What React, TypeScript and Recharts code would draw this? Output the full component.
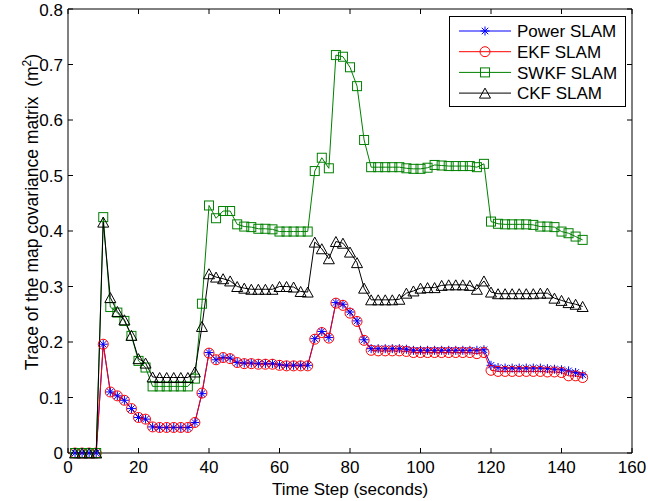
import React from 'react';
import { LineChart, Line, XAxis, YAxis, Legend, Label } from 'recharts';

// time axis (seconds)
const timeSteps = [
  2, 4, 6, 8, 10, 12, 14, 16, 18, 20, 22, 24, 26, 28, 30, 32, 34, 36, 38, 40,
  42, 44, 46, 48, 50, 52, 54, 56, 58, 60, 62, 64, 66, 68, 70, 72, 74, 76, 78, 80,
  82, 84, 86, 88, 90, 92, 94, 96, 98, 100, 102, 104, 106, 108, 110, 112, 114, 116, 118, 120,
  122, 124, 126, 128, 130, 132, 134, 136, 138, 140, 142, 144, 146,
];

const powerSlam = [
  0, 0, 0, 0, 0.196, 0.110, 0.103, 0.095, 0.080, 0.064, 0.061, 0.047, 0.046, 0.046, 0.046, 0.046, 0.046, 0.055, 0.107, 0.181,
  0.168, 0.172, 0.171, 0.163, 0.162, 0.162, 0.161, 0.161, 0.161, 0.159, 0.158, 0.158, 0.158, 0.158, 0.206, 0.219, 0.208, 0.271, 0.268, 0.254,
  0.238, 0.204, 0.188, 0.188, 0.188, 0.188, 0.188, 0.187, 0.185, 0.185, 0.185, 0.185, 0.185, 0.185, 0.185, 0.185, 0.185, 0.185, 0.186, 0.158,
  0.154, 0.153, 0.153, 0.153, 0.153, 0.153, 0.153, 0.152, 0.151, 0.150, 0.148, 0.145, 0.141,
];

const ekfSlam = [
  0, 0, 0, 0, 0.196, 0.110, 0.103, 0.095, 0.080, 0.064, 0.061, 0.047, 0.046, 0.046, 0.046, 0.046, 0.046, 0.055, 0.108, 0.180,
  0.168, 0.172, 0.170, 0.163, 0.161, 0.161, 0.160, 0.160, 0.160, 0.158, 0.157, 0.157, 0.157, 0.157, 0.205, 0.217, 0.207, 0.270, 0.266, 0.252,
  0.237, 0.203, 0.185, 0.184, 0.184, 0.184, 0.184, 0.183, 0.181, 0.181, 0.181, 0.181, 0.181, 0.181, 0.181, 0.181, 0.181, 0.179, 0.181, 0.149,
  0.147, 0.147, 0.147, 0.147, 0.147, 0.147, 0.147, 0.146, 0.146, 0.145, 0.139, 0.139, 0.136, 0.133,
];

const swkfSlam = [
  0, 0, 0, 0, 0.425, 0.263, 0.253, 0.238, 0.211, 0.166, 0.154, 0.120, 0.120, 0.120, 0.120, 0.120, 0.120, 0.134, 0.269, 0.446,
  0.423, 0.436, 0.436, 0.412, 0.408, 0.407, 0.404, 0.404, 0.403, 0.399, 0.399, 0.399, 0.399, 0.399, 0.508, 0.532, 0.513, 0.717, 0.714, 0.695,
  0.661, 0.564, 0.515, 0.515, 0.515, 0.515, 0.515, 0.513, 0.512, 0.512, 0.514, 0.519, 0.518, 0.517, 0.517, 0.517, 0.517, 0.515, 0.521, 0.417,
  0.413, 0.412, 0.412, 0.412, 0.412, 0.411, 0.408, 0.408, 0.407, 0.399, 0.396, 0.390, 0.384,
];

const ckfSlam = [
  0, 0, 0, 0, 0.416, 0.280, 0.255, 0.240, 0.212, 0.170, 0.162, 0.137, 0.136, 0.136, 0.136, 0.136, 0.136, 0.146, 0.228, 0.323,
  0.317, 0.314, 0.310, 0.300, 0.297, 0.295, 0.295, 0.295, 0.295, 0.300, 0.300, 0.299, 0.291, 0.290, 0.380, 0.368, 0.350, 0.381, 0.378, 0.362,
  0.343, 0.297, 0.276, 0.276, 0.276, 0.276, 0.277, 0.288, 0.292, 0.297, 0.298, 0.298, 0.302, 0.303, 0.303, 0.303, 0.302, 0.295, 0.310, 0.290,
  0.287, 0.287, 0.287, 0.287, 0.287, 0.287, 0.288, 0.288, 0.279, 0.275, 0.271, 0.268, 0.264,
];

const xTicks = [0, 20, 40, 60, 80, 100, 120, 140, 160];
const yTicks = [0, 0.1, 0.2, 0.3, 0.4, 0.5, 0.6, 0.7, 0.8];

const seriesNames = ['Power SLAM', 'EKF SLAM', 'SWKF SLAM', 'CKF SLAM'];

const data = timeSteps.map((t, i) => ({
  t,
  power: powerSlam[i],
  ekf: ekfSlam[i],
  swkf: swkfSlam[i],
  ckf: ckfSlam[i],
}));

const FONT = '"Liberation Sans", Arial, Helvetica, sans-serif';
const BLUE = '#0000ff';
const RED = '#ff0000';
const GREEN = '#008000';
const BLACK = '#000000';

type MarkProps = { cx: number; cy: number; color: string };

const Star = ({ cx, cy, color }: MarkProps) => {
  const r = 4.5;
  const d = r * 0.72;
  return (
    <g stroke={color} strokeWidth={1} fill="none">
      <line x1={cx - r} y1={cy} x2={cx + r} y2={cy} />
      <line x1={cx} y1={cy - r} x2={cx} y2={cy + r} />
      <line x1={cx - d} y1={cy - d} x2={cx + d} y2={cy + d} />
      <line x1={cx - d} y1={cy + d} x2={cx + d} y2={cy - d} />
    </g>
  );
};

const Circle = ({ cx, cy, color }: MarkProps) => (
  <circle cx={cx} cy={cy} r={5} stroke={color} strokeWidth={1} fill="none" />
);

const Square = ({ cx, cy, color }: MarkProps) => (
  <rect x={cx - 4.5} y={cy - 4.5} width={9} height={9} stroke={color} strokeWidth={1} fill="none" />
);

const Triangle = ({ cx, cy, color }: MarkProps) => (
  <polygon
    points={`${cx},${cy - 5} ${cx - 5.5},${cy + 5} ${cx + 5.5},${cy + 5}`}
    stroke={color}
    strokeWidth={1}
    fill="none"
  />
);

const series = [
  { key: 'power', name: seriesNames[0], color: BLUE, Mark: Star },
  { key: 'ekf', name: seriesNames[1], color: RED, Mark: Circle },
  { key: 'swkf', name: seriesNames[2], color: GREEN, Mark: Square },
  { key: 'ckf', name: seriesNames[3], color: BLACK, Mark: Triangle },
];

const renderLegend = () => (
  <svg width={177} height={91} style={{ display: 'block' }}>
    <rect x={0.5} y={0.5} width={176} height={90} fill="#fff" stroke="#000" strokeWidth={1} />
    {series.map((s, i) => {
      const y = 15 + i * 20.7;
      return (
        <g key={s.key}>
          <line x1={10} y1={y} x2={62} y2={y} stroke={s.color} strokeWidth={1} />
          <s.Mark cx={36} cy={y} color={s.color} />
          <text x={68} y={y} dy="0.36em" fontSize={17} fontFamily={FONT} fill="#000">
            {s.name}
          </text>
        </g>
      );
    })}
  </svg>
);

const renderXLabel = () => (
  <text x={350} y={495} textAnchor="middle" fontSize={17} fontFamily={FONT} fill="#000">
    Time Step (seconds)
  </text>
);

const renderYLabel = () => (
  <text
    x={38}
    y={212}
    transform="rotate(-90, 38, 212)"
    textAnchor="middle"
    fontSize={17.5}
    fontFamily={FONT}
    fill="#000"
  >
    Trace of the map covariance matrix{'\u00a0 '}(m
    <tspan baselineShift="super" fontSize={12}>2</tspan>
    <tspan>)</tspan>
  </text>
);

const tickStyle = { fill: '#000', fontSize: 17, fontFamily: FONT };
const axisStroke = { stroke: '#000', strokeWidth: 1 };

export default function App() {
  return (
    <div style={{ position: 'absolute', left: 0, top: 0, background: '#fff' }}>
      <LineChart
        width={648}
        height={501}
        data={data}
        margin={{ top: 8, right: 15, left: 0, bottom: 0 }}
        style={{ fontFamily: FONT }}
      >
        <XAxis
          dataKey="t"
          type="number"
          domain={[0, 160]}
          ticks={xTicks}
          height={48}
          tick={tickStyle}
          tickSize={-5}
          tickMargin={13}
          axisLine={axisStroke}
          tickLine={axisStroke}
        >
          <Label content={renderXLabel} />
        </XAxis>
        {/* frame: top edge with inward ticks */}
        <XAxis
          xAxisId="top"
          orientation="top"
          dataKey="t"
          type="number"
          domain={[0, 160]}
          ticks={xTicks}
          height={1}
          tickFormatter={() => ''}
          tickSize={-5}
          axisLine={axisStroke}
          tickLine={axisStroke}
        />
        <YAxis
          type="number"
          domain={[0, 0.8]}
          ticks={yTicks}
          width={68}
          tick={tickStyle}
          tickSize={-5}
          tickMargin={10}
          tickFormatter={(v: number) => (v === 0 ? '0' : v.toFixed(1))}
          axisLine={axisStroke}
          tickLine={axisStroke}
        >
          <Label content={renderYLabel} />
        </YAxis>
        {/* frame: right edge with inward ticks */}
        <YAxis
          yAxisId="right"
          orientation="right"
          type="number"
          domain={[0, 0.8]}
          ticks={yTicks}
          width={1}
          tickFormatter={() => ''}
          tickSize={-5}
          axisLine={axisStroke}
          tickLine={axisStroke}
        />
        <Line
          xAxisId="top"
          yAxisId="right"
          dataKey="ckf"
          stroke="none"
          dot={false}
          activeDot={false}
          legendType="none"
          isAnimationActive={false}
        />
        {series.map((s) => (
          <Line
            key={s.key}
            type="linear"
            dataKey={s.key}
            name={s.name}
            stroke={s.color}
            strokeWidth={1}
            isAnimationActive={false}
            activeDot={false}
            dot={(p: any) => <s.Mark key={`${s.key}-${p.index}`} cx={p.cx} cy={p.cy} color={s.color} />}
          />
        ))}
        <Legend
          layout="vertical"
          align="center"
          verticalAlign="middle"
          content={renderLegend}
          wrapperStyle={{ position: 'absolute', left: 449, top: 16, width: 177, height: 91 }}
        />
      </LineChart>
    </div>
  );
}
